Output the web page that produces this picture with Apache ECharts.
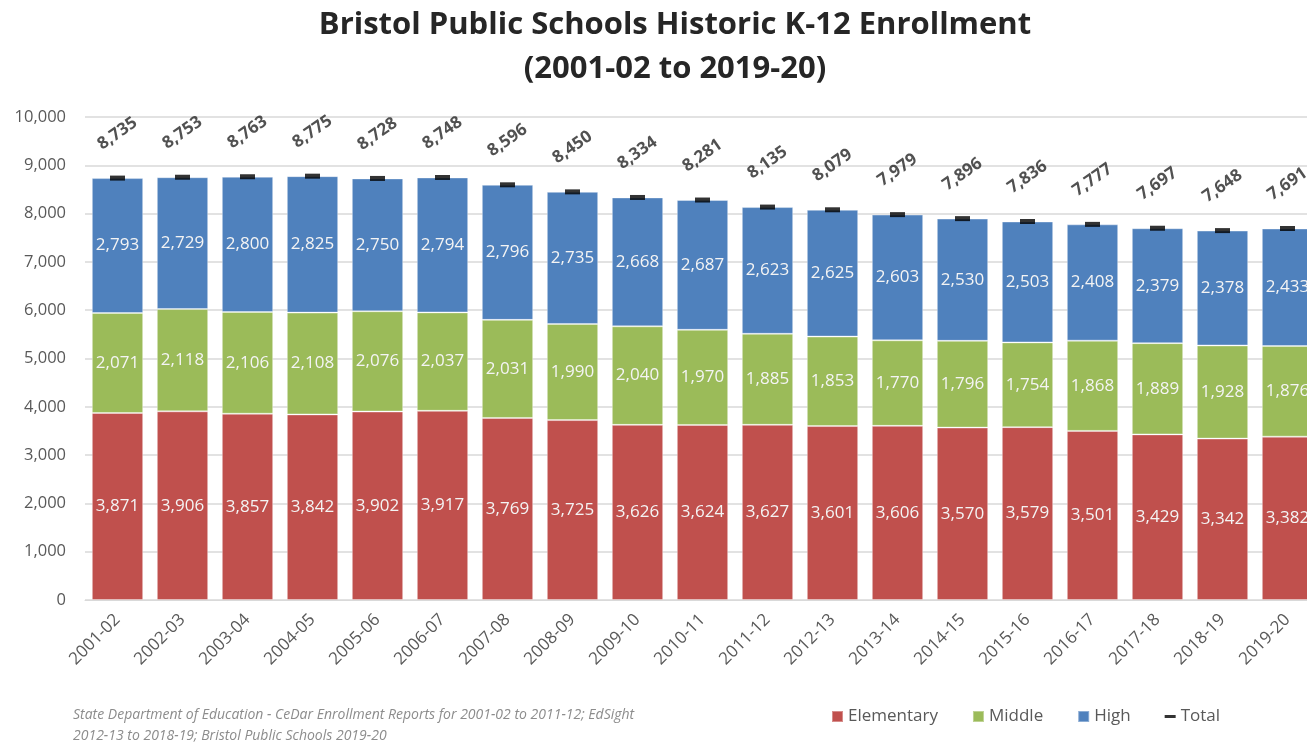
<!DOCTYPE html>
<html>
<head>
<meta charset="utf-8">
<script src="https://cdn.jsdelivr.net/npm/echarts@6/dist/echarts.min.js"></script>
<style>html,body{margin:0;padding:0;background:#fff}#c{width:1307px;height:746px}</style>
</head>
<body>
<div id="c"></div>
<script>
const categories = ["2001-02","2002-03","2003-04","2004-05","2005-06","2006-07","2007-08","2008-09","2009-10","2010-11","2011-12","2012-13","2013-14","2014-15","2015-16","2016-17","2017-18","2018-19","2019-20"];
const elementary = [3871,3906,3857,3842,3902,3917,3769,3725,3626,3624,3627,3601,3606,3570,3579,3501,3429,3342,3382];
const middle = [2071,2118,2106,2108,2076,2037,2031,1990,2040,1970,1885,1853,1770,1796,1754,1868,1889,1928,1876];
const high = [2793,2729,2800,2825,2750,2794,2796,2735,2668,2687,2623,2625,2603,2530,2503,2408,2379,2378,2433];
const total = [8735,8753,8763,8775,8728,8748,8596,8450,8334,8281,8135,8079,7979,7896,7836,7777,7697,7648,7691];
const yTicks = [0,1000,2000,3000,4000,5000,6000,7000,8000,9000,10000];

const FONT = '"Open Sans", "Noto Sans", sans-serif';
const fmt = v => Number(v).toLocaleString('en-US');
const chart = echarts.init(document.getElementById('c'));
const barLabel = {show:true, position:'inside', color:'#f4f4f4', fontSize:17, fontFamily:FONT, formatter:p=>fmt(p.value)};
const barItem = c => ({color:c, borderColor:'rgba(255,255,255,0.35)', borderWidth:1});
chart.setOption({
  animation:false,
  textStyle:{fontFamily:FONT},
  title:{text:'Bristol Public Schools Historic K-12 Enrollment\n(2001-02 to 2019-20)', left:670, textAlign:'center', top:-2,
    textStyle:{fontSize:31, fontWeight:'bold', color:'#262626', fontFamily:FONT, lineHeight:44}},
  grid:{left:85, top:117, width:1235, bottom:146, containLabel:false, outerBoundsMode:'none'},
  legend:{left:826, top:703, itemWidth:11, itemHeight:11, itemGap:34,
    textStyle:{fontSize:17, color:'#595959', fontFamily:FONT},
    data:[{name:'Elementary', icon:'rect'},{name:'Middle', icon:'rect'},{name:'High', icon:'rect'},
      {name:'Total', icon:'path://M0,4 L11,4 L11,7 L0,7 Z'}]},
  xAxis:{type:'category', data:categories, axisTick:{show:false},
    axisLine:{lineStyle:{color:'#d9d9d9', width:1}},
    axisLabel:{rotate:45, color:'#595959', fontSize:17, fontFamily:FONT, margin:17, interval:0}},
  yAxis:{type:'value', min:0, max:10000, interval:1000,
    axisLine:{show:false}, axisTick:{show:false},
    splitLine:{lineStyle:{color:'#d9d9d9', width:1.5}},
    axisLabel:{color:'#595959', fontSize:16.5, fontFamily:FONT, margin:19, formatter:v=>yTicks.includes(v)?fmt(v):''}},
  series:[
    {name:'Elementary', type:'bar', stack:'s', data:elementary, barWidth:'79%', itemStyle:barItem('#C0504D'), label:barLabel},
    {name:'Middle', type:'bar', stack:'s', data:middle, itemStyle:barItem('#9BBB59'), label:barLabel},
    {name:'High', type:'bar', stack:'s', data:high, itemStyle:barItem('#4F81BD'), label:barLabel},
    {name:'Total', type:'scatter', data:total, symbol:'rect', symbolSize:[15,5], itemStyle:{color:'#000'}, z:5,
      label:{show:true, position:[7.5,-42], rotate:35, align:'center', verticalAlign:'middle',
        fontSize:17, fontWeight:'bold', color:'#262626', fontFamily:FONT, formatter:p=>fmt(p.value)}}
  ],
  graphic:[
    {type:'text', left:73, top:705, style:{text:'State Department of Education - CeDar Enrollment Reports for 2001-02 to 2011-12; EdSight\n2012-13 to 2018-19; Bristol Public Schools 2019-20',
      fontSize:14, fontStyle:'italic', fill:'#8c8c8c', fontFamily:FONT, lineHeight:21}}
  ]
});
</script>
</body>
</html>
